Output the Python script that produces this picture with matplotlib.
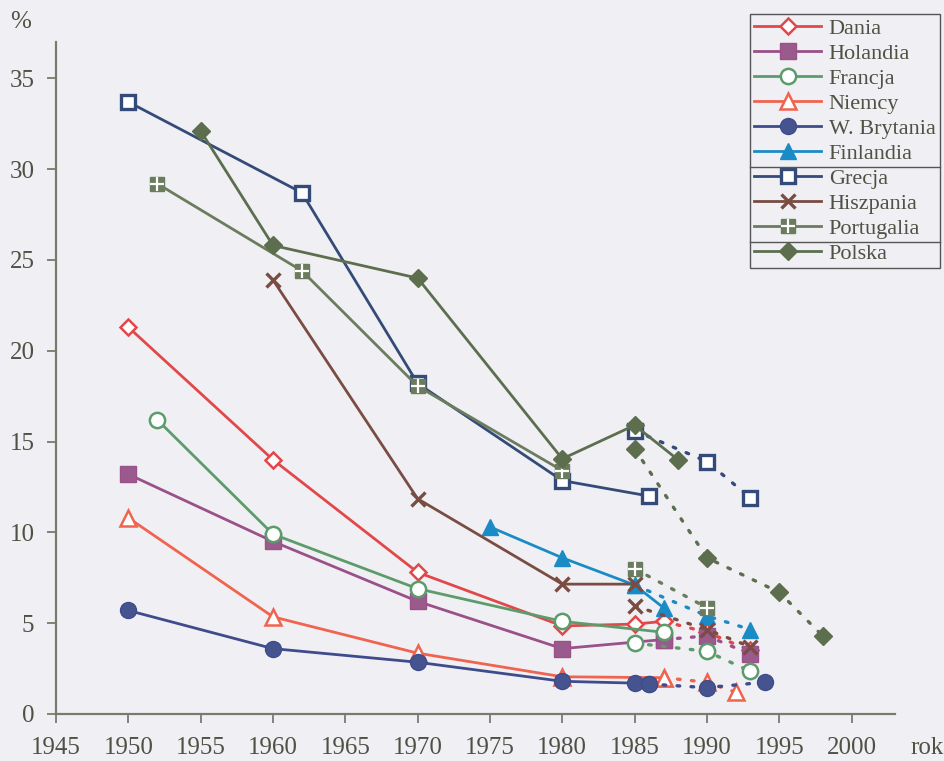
import matplotlib
matplotlib.use("Agg")
import matplotlib.pyplot as plt
from matplotlib.lines import Line2D

# ---------------- data ----------------
dania_years = [1950, 1960, 1970, 1980, 1985, 1987]
dania_vals = [21.3, 14.0, 7.8, 4.85, 4.95, 5.1]
dania_years2 = [1987, 1990, 1993]
dania_vals2 = [5.1, 4.5, 3.5]

holandia_years = [1950, 1960, 1970, 1980, 1987]
holandia_vals = [13.2, 9.5, 6.2, 3.6, 4.1]
holandia_years2 = [1987, 1990, 1993]
holandia_vals2 = [4.1, 4.3, 3.3]

francja_years = [1952, 1960, 1970, 1980, 1987]
francja_vals = [16.2, 9.9, 6.9, 5.1, 4.5]
francja_years2 = [1985, 1990, 1993]
francja_vals2 = [3.9, 3.45, 2.35]

niemcy_years = [1950, 1960, 1970, 1980, 1987]
niemcy_vals = [10.8, 5.35, 3.35, 2.05, 2.0]
niemcy_years2 = [1987, 1990, 1992]
niemcy_vals2 = [2.0, 1.75, 1.2]

wb_years = [1950, 1960, 1970, 1980, 1985, 1986]
wb_vals = [5.7, 3.6, 2.85, 1.8, 1.7, 1.65]
wb_years2 = [1986, 1990, 1994]
wb_vals2 = [1.65, 1.45, 1.75]

finlandia_years = [1975, 1980, 1985, 1987]
finlandia_vals = [10.3, 8.6, 7.1, 5.85]
finlandia_years2 = [1985, 1990, 1993]
finlandia_vals2 = [7.1, 5.4, 4.65]

grecja_years = [1950, 1962, 1970, 1980, 1986]
grecja_vals = [33.7, 28.7, 18.2, 12.85, 12.0]
grecja_years2 = [1985, 1990, 1993]
grecja_vals2 = [15.6, 13.9, 11.9]

hiszpania_years = [1960, 1970, 1980, 1985]
hiszpania_vals = [23.9, 11.85, 7.15, 7.15]
hiszpania_years2 = [1985, 1990, 1993]
hiszpania_vals2 = [5.95, 4.65, 3.7]

portugalia_years = [1952, 1962, 1970, 1980]
portugalia_vals = [29.2, 24.4, 18.05, 13.4]
portugalia_years2 = [1985, 1990]
portugalia_vals2 = [8.0, 5.85]

polska_years = [1955, 1960, 1970, 1980, 1985, 1988]
polska_vals = [32.1, 25.8, 24.0, 14.05, 15.9, 14.0]
polska_years2 = [1985, 1990, 1995, 1998]
polska_vals2 = [14.6, 8.6, 6.7, 4.3]

x_ticks = [1945, 1950, 1955, 1960, 1965, 1970, 1975, 1980, 1985, 1990, 1995, 2000]
y_ticks = [0, 5, 10, 15, 20, 25, 30, 35]

# ---------------- style ----------------
BG = "#f0f0f4"
TXT = "#505044"
AX = "#7a7a6c"
plt.rcParams["font.family"] = ["Liberation Serif", "DejaVu Serif"]

fig = plt.figure(figsize=(9.45, 7.61), dpi=100, facecolor=BG)
ax = fig.add_axes([56 / 945, 1 - 714 / 761, (895 - 56) / 945, (714 - 42) / 761])
ax.set_facecolor(BG)

LW = 2.0
DOT = (0, (0.8, 3.4))

series = [
    # label, years, vals, years2, vals2, color, marker, ms, mfc, mew
    ("Dania", dania_years, dania_vals, dania_years2, dania_vals2, "#e2484a", "D", 8.5, "white", 1.8),
    ("Holandia", holandia_years, holandia_vals, holandia_years2, holandia_vals2, "#9a5088", "s", 11, "#9a5a8c", 1.0),
    ("Francja", francja_years, francja_vals, francja_years2, francja_vals2, "#5c9c6c", "o", 11, "white", 1.8),
    ("Niemcy", niemcy_years, niemcy_vals, niemcy_years2, niemcy_vals2, "#f0644f", "^", 11, "white", 1.8),
    ("W. Brytania", wb_years, wb_vals, wb_years2, wb_vals2, "#3f4c8c", "o", 11.5, "#45538f", 1.0),
    ("Finlandia", finlandia_years, finlandia_vals, finlandia_years2, finlandia_vals2, "#1b8bc6", "^", 12, "#1b8bc6", 1.0),
    ("Grecja", grecja_years, grecja_vals, grecja_years2, grecja_vals2, "#344a78", "s", 10.5, "white", 2.4),
    ("Hiszpania", hiszpania_years, hiszpania_vals, hiszpania_years2, hiszpania_vals2, "#7a4c42", "x", 10, "none", 2.4),
    ("Portugalia", portugalia_years, portugalia_vals, portugalia_years2, portugalia_vals2, "#6b7c5e", "s", 10.5, "#6b7c5e", 1.0),
    ("Polska", polska_years, polska_vals, polska_years2, polska_vals2, "#5c6e4e", "D", 9, "#5c6e4e", 1.0),
]

order_draw = [0, 1, 2, 3, 5, 7, 8, 9, 6, 4]
hdict = {}
for i in order_draw:
    lab, yr, vl, yr2, vl2, col, mk, ms, mfc, mew = series[i]
    kw = dict(color=col, marker=mk, markersize=ms, markerfacecolor=mfc,
              markeredgecolor=col, markeredgewidth=mew, zorder=3 + i * 0.1)
    ax.plot(yr2, vl2, linestyle=DOT, linewidth=2.4, dash_capstyle="round", **kw)
    ln, = ax.plot(yr, vl, linestyle="-", linewidth=LW, **kw)
    h = ln
    if lab == "Portugalia":
        pk = dict(linestyle="none", marker="+", markersize=ms * 0.95,
                  markeredgecolor="white", markeredgewidth=1.6)
        ax.plot(yr, vl, zorder=kw["zorder"] + 0.01, **pk)
        ax.plot(yr2, vl2, zorder=kw["zorder"] + 0.01, **pk)
        h = (ln, Line2D([], [], **pk))
    hdict[i] = h

handles = [hdict[i] for i in range(len(series))]
labels = [s[0] for s in series]

ax.set_xlim(1945, 2003)
ax.set_ylim(0, 37)
ax.set_xticks(x_ticks)
ax.set_yticks(y_ticks)
for s in ["top", "right"]:
    ax.spines[s].set_visible(False)
for s in ["left", "bottom"]:
    ax.spines[s].set_color(AX)
    ax.spines[s].set_linewidth(1.6)
ax.tick_params(axis="both", colors=AX, width=1.3, length=6.5, labelsize=18, labelcolor=TXT)
ax.tick_params(axis="y", pad=9)
ax.tick_params(axis="x", pad=10)

fig.text(21 / 945, 1 - 22 / 761, "%", fontsize=18, color=TXT, ha="center", va="center")
fig.text(927 / 945, 1 - 748 / 761, "rok", fontsize=18, color=TXT, ha="center", va="center")

leg = ax.legend(handles, labels, loc="upper right",
                bbox_to_anchor=(940 / 945, 1 - 14 / 761), bbox_transform=fig.transFigure,
                borderaxespad=0, fontsize=16, frameon=True, fancybox=False,
                edgecolor="#555555", facecolor=BG, framealpha=1,
                handlelength=3.0, handletextpad=0.35, labelspacing=0.2,
                borderpad=0.2)
leg.get_frame().set_linewidth(1.0)
for t in leg.get_texts():
    t.set_color(TXT)
leg.set_zorder(10)

fig.canvas.draw()
renderer = fig.canvas.get_renderer()
fb = leg.get_frame().get_window_extent(renderer)
texts = leg.get_texts()
inv = fig.transFigure.inverted()
for a, b in [(5, 6), (8, 9)]:
    ea = texts[a].get_window_extent(renderer)
    eb = texts[b].get_window_extent(renderer)
    ysep = (ea.y0 + eb.y1) / 2
    p0 = inv.transform((fb.x0, ysep))
    p1 = inv.transform((fb.x1, ysep))
    fig.add_artist(Line2D([p0[0], p1[0]], [p0[1], p1[1]], color="#555555",
                          linewidth=1.0, transform=fig.transFigure, zorder=20))

fig.savefig("out.png", dpi=100, facecolor=BG)
